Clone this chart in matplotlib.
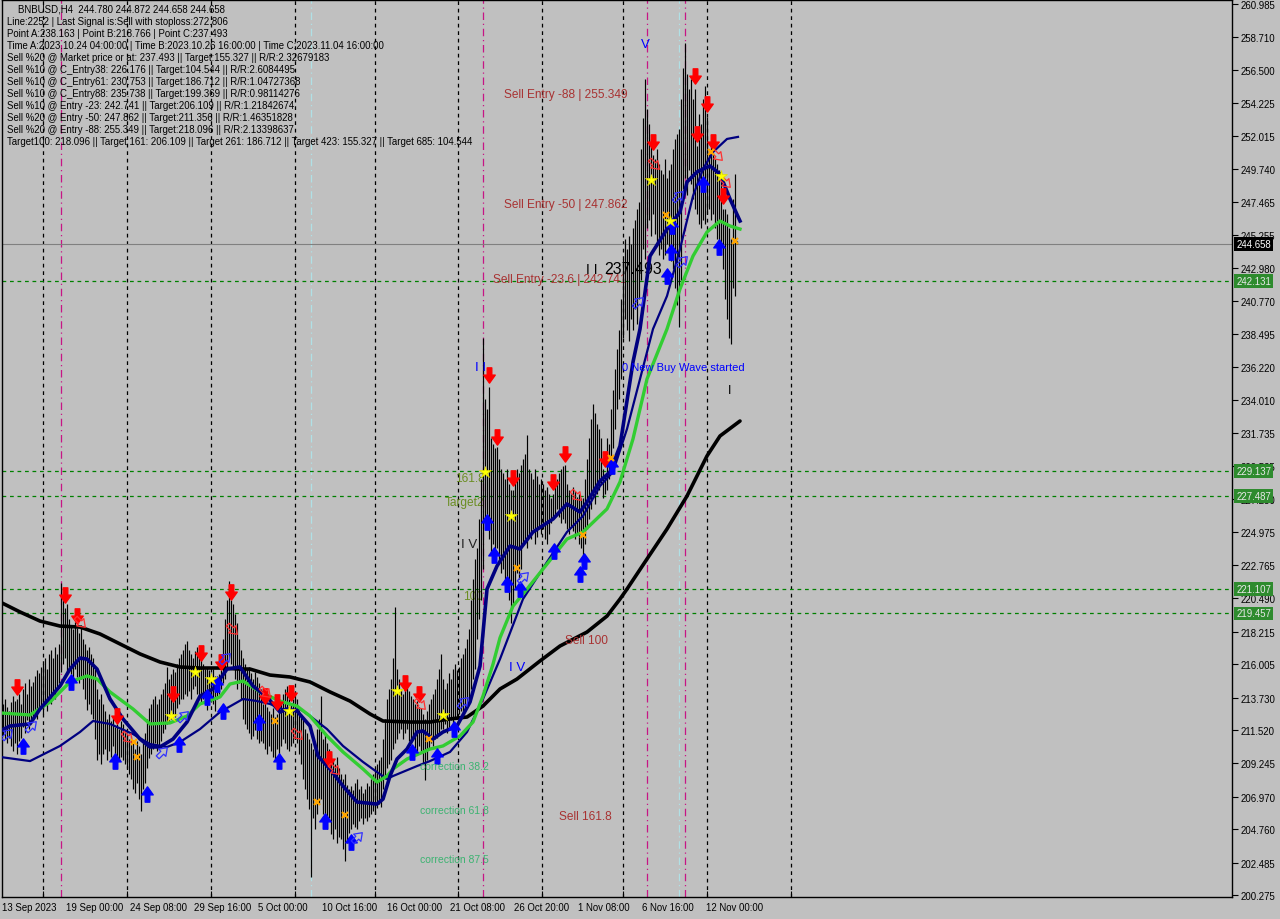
import matplotlib
matplotlib.use("Agg")
import matplotlib.pyplot as plt
import matplotlib.transforms as mtransforms
from matplotlib.path import Path
import numpy as np

# ---------------- data ----------------
highs = [
    213.3, 213.6, 213.1, 212.8, 213.4, 213.8, 213.5, 213.6, 214.0, 213.3,
    214.3, 214.7, 214.0, 215.0, 214.5, 214.8, 215.2, 215.6, 215.4, 215.8,
    216.0, 216.4, 215.7, 216.7, 217.0, 216.4, 217.2, 216.7, 217.4, 221.5,
    220.4, 219.8, 220.1, 219.1, 218.7, 218.4, 218.9, 218.5, 218.1, 218.7,
    217.7, 217.4, 217.0, 217.2, 216.7, 216.4, 215.7, 214.3, 213.6, 214.0,
    213.3, 212.8, 212.3, 212.6, 212.1, 212.4, 211.7, 211.9, 211.6, 212.1,
    211.9, 211.5, 211.3, 210.9, 211.1, 210.6, 210.2, 210.8, 210.4, 209.9,
    210.6, 211.3, 212.3, 213.0, 213.3, 213.6, 213.8, 213.3, 213.6, 214.0,
    214.3, 214.7, 215.8, 215.0, 215.3, 215.7, 215.5, 216.0, 216.4, 216.7,
    217.0, 217.4, 217.6, 217.0, 216.7, 216.4, 216.9, 217.2, 216.7, 216.4,
    216.0, 215.7, 215.8, 215.6, 215.4, 215.7, 215.2, 215.0, 215.3, 215.6,
    217.7, 219.1, 220.4, 221.7, 220.4, 220.1, 219.4, 218.8, 217.7, 217.0,
    216.4, 216.0, 215.7, 215.8, 215.4, 215.0, 215.5, 215.1, 214.7, 214.3,
    213.3, 213.6, 213.1, 212.8, 212.6, 213.0, 212.4, 212.6, 213.0, 213.3,
    214.0, 214.3, 214.5, 213.6, 213.3, 213.6, 214.0, 213.6, 212.9, 212.6,
    212.3, 211.6, 211.3, 210.9, 210.6, 210.2, 210.6, 211.6, 212.3, 213.8,
    210.9, 211.3, 210.6, 210.2, 209.9, 209.5, 209.2, 209.7, 208.9, 208.5,
    208.2, 208.5, 207.8, 207.5, 207.7, 207.4, 207.9, 208.2, 207.5, 207.7,
    207.2, 207.5, 207.9, 207.7, 208.2, 208.5, 208.9, 209.2, 209.5, 209.7,
    210.9, 212.3, 213.6, 214.3, 215.0, 216.4, 219.9, 215.7, 215.0, 214.3,
    214.0, 214.3, 214.5, 214.2, 213.8, 213.6, 213.3, 213.5, 213.1, 213.0,
    212.6, 212.3, 212.8, 213.3, 213.6, 214.0, 214.3, 215.0, 215.7, 216.7,
    215.0, 214.3, 214.7, 215.4, 215.0, 215.7, 216.0, 215.6, 215.8, 216.4,
    216.7, 217.1, 217.7, 218.4, 220.4, 221.8, 223.2, 223.9, 225.9, 228.6,
    238.2, 234.1, 233.4, 234.9, 231.4, 231.0, 230.7, 230.8, 230.0, 229.3,
    229.0, 228.6, 229.3, 228.3, 227.9, 227.9, 228.8, 229.3, 229.0, 229.6,
    230.0, 230.3, 231.6, 229.3, 229.0, 228.6, 229.3, 228.8, 228.3, 228.6,
    228.3, 227.9, 228.1, 227.6, 227.3, 227.6, 228.1, 228.6, 229.0, 229.3,
    229.5, 229.6, 228.3, 227.9, 227.6, 228.1, 227.8, 227.4, 227.6, 227.3,
    227.3, 228.6, 230.0, 231.4, 232.7, 233.7, 233.1, 232.4, 232.0, 231.4,
    229.3, 228.9, 231.4, 231.0, 233.4, 234.7, 236.1, 237.5, 238.8, 240.9,
    243.6, 245.0, 244.3, 245.2, 244.6, 245.7, 246.3, 247.0, 247.5, 251.1,
    253.2, 255.9, 253.8, 252.8, 251.8, 250.7, 250.4, 251.1, 250.1, 249.7,
    249.4, 250.4, 249.1, 249.7, 250.1, 251.1, 251.8, 252.1, 252.5, 254.5,
    256.6, 258.3, 256.2, 255.2, 255.9, 254.5, 255.2, 251.3, 253.5, 252.8,
    254.5, 255.4, 253.3, 251.1, 251.5, 250.8, 250.4, 250.1, 249.7, 249.4,
    247.0, 247.0, 246.7, 245.7, 245.0, 247.7, 249.4, 244.87,
]
lows = [
    211.2, 210.9, 210.6, 211.0, 210.4, 210.1, 210.6, 209.9, 210.8, 211.0,
    211.7, 211.3, 212.2, 211.6, 212.0, 212.4, 212.8, 212.3, 213.0, 213.1,
    212.6, 213.3, 212.8, 213.6, 213.3, 214.0, 213.6, 214.3, 214.7, 215.5,
    216.0, 216.4, 215.5, 215.8, 215.3, 215.0, 215.7, 215.1, 214.7, 215.0,
    214.3, 213.6, 212.9, 213.3, 212.6, 212.3, 210.9, 209.5, 209.9, 209.2,
    209.9, 210.2, 209.5, 210.1, 209.7, 210.4, 209.9, 209.5, 209.4, 209.7,
    209.5, 209.2, 208.9, 208.5, 208.2, 207.5, 207.2, 207.9, 206.8, 206.0,
    207.5, 207.9, 208.9, 209.6, 209.9, 210.2, 210.6, 210.1, 210.4, 210.8,
    211.3, 211.6, 211.9, 212.1, 212.3, 212.6, 212.4, 213.0, 213.3, 213.6,
    213.6, 214.0, 213.8, 214.2, 213.6, 214.3, 214.5, 214.0, 213.6, 213.3,
    213.6, 213.3, 212.9, 213.6, 213.8, 213.3, 212.8, 213.6, 214.0, 214.3,
    214.7, 215.0, 215.7, 216.4, 216.0, 215.7, 215.0, 214.3, 214.7, 213.6,
    212.3, 211.9, 211.6, 211.3, 210.9, 211.1, 211.5, 210.9, 210.6, 210.8,
    210.6, 210.2, 209.9, 210.4, 210.1, 209.7, 209.5, 210.2, 209.9, 210.4,
    210.9, 210.6, 210.2, 210.1, 210.4, 210.6, 210.9, 210.6, 209.9, 209.2,
    208.2, 207.5, 206.8, 206.1, 201.5, 205.5, 204.8, 205.8, 206.5, 206.8,
    205.8, 205.1, 204.8, 205.5, 204.4, 204.1, 204.8, 203.8, 204.2, 204.1,
    203.4, 202.6, 203.8, 204.5, 204.8, 205.1, 204.9, 204.8, 205.3, 205.5,
    205.1, 205.5, 205.3, 205.6, 205.8, 206.0, 205.8, 206.2, 206.5, 206.3,
    207.5, 208.2, 208.9, 209.2, 209.5, 210.2, 210.6, 210.9, 211.3, 211.6,
    210.9, 211.3, 211.6, 210.8, 210.6, 210.9, 210.2, 209.9, 210.4, 210.1,
    209.2, 208.1, 209.5, 210.2, 210.6, 210.4, 210.9, 211.0, 211.3, 211.6,
    211.6, 211.9, 211.3, 211.7, 212.2, 211.9, 212.4, 212.3, 212.6, 212.8,
    212.6, 212.8, 213.3, 213.6, 214.3, 215.0, 215.7, 217.7, 219.1, 220.4,
    222.5, 225.9, 225.2, 224.5, 223.5, 224.2, 223.2, 223.9, 222.9, 222.2,
    222.5, 221.8, 221.1, 220.4, 218.8, 220.1, 221.1, 222.2, 221.8, 222.5,
    224.2, 224.5, 223.9, 224.9, 224.5, 225.2, 224.2, 224.7, 225.2, 224.9,
    225.2, 224.5, 224.2, 224.9, 225.6, 225.9, 226.2, 226.6, 226.0, 225.6,
    225.9, 225.6, 225.2, 224.9, 225.4, 225.1, 224.5, 224.9, 224.2, 223.9,
    223.2, 224.2, 225.2, 225.9, 226.6, 227.3, 226.9, 227.6, 227.9, 228.3,
    227.3, 227.6, 227.9, 228.6, 229.3, 230.7, 232.0, 233.4, 234.1, 235.4,
    238.2, 239.5, 238.8, 238.0, 239.5, 238.8, 240.2, 239.2, 240.9, 242.2,
    244.3, 243.6, 245.7, 246.3, 245.2, 246.7, 245.3, 244.6, 243.9, 244.3,
    243.6, 243.9, 244.6, 244.3, 243.5, 242.9, 241.6, 240.5, 239.0, 242.2,
    248.4, 249.1, 248.0, 249.7, 248.7, 247.7, 247.0, 246.7, 246.0, 245.7,
    246.3, 246.0, 246.7, 247.0, 246.3, 246.7, 245.7, 245.0, 244.3, 244.6,
    242.9, 240.9, 239.5, 238.2, 237.8, 241.6, 241.1, 244.66,
]

# moving averages read at sample bars (bar index, price)
ma200_x = [-1.5, 8.5, 18.5, 28.5, 38.5, 48.5, 58.5, 68.5, 78.5, 88.5, 98.5, 108.5, 118.5, 123.5,
           133.5, 143.5, 153.5, 163.5, 173.5, 183.5, 190, 203.5, 213.5, 223.5, 232, 240, 248.5,
           257, 268.5, 278.5, 292, 302, 308.5, 312, 322, 332, 342, 352, 358.5, 368.5]
ma200_y = [220.24, 219.56, 218.94, 218.60, 218.53, 218.06, 217.38, 216.70, 216.15, 215.81, 215.74,
           215.74, 215.67, 215.67, 215.26, 215.13, 214.79, 214.11, 213.49, 212.61, 212.13, 212.06,
           212.06, 212.27, 212.40, 213.15, 214.31, 214.99, 216.22, 217.24, 218.19, 219.28, 220.44,
           221.12, 223.17, 225.21, 227.46, 230.19, 231.55, 232.57]

ma_green_x = [-1.5, 13.5, 23.5, 33.5, 42, 47, 53.5, 65, 73.5, 83.5, 92, 98.5, 108.5, 113.5, 120,
              128.5, 138.5, 147, 153.5, 162, 170, 180, 187, 192, 195, 202, 213.5, 220, 228.5, 235,
              240, 245, 248.5, 255, 262, 282, 290, 302, 308.5, 315, 322, 332, 338.5, 345, 352,
              358.5, 363.5, 368.5]
ma_green_y = [212.68, 212.54, 213.42, 214.79, 215.20, 214.99, 214.11, 212.95, 211.93, 212.00,
              212.47, 213.29, 213.77, 214.65, 214.85, 214.11, 213.49, 213.15, 212.47, 211.11,
              210.02, 208.86, 207.97, 208.38, 208.86, 209.54, 210.22, 210.43, 211.11, 212.06,
              213.83, 216.00, 217.80, 219.96, 221.12, 224.53, 225.01, 226.58, 228.42, 231.35,
              235.43, 238.84, 241.57, 243.81, 245.45, 246.20, 245.86, 245.65]

ma_fast_x = [-1.5, 3.5, 13.5, 18.5, 28.5, 33.5, 38.5, 42, 47, 53.5, 60, 68.5, 73.5, 78.5, 85, 92,
             98.5, 105, 112, 118.5, 125, 132, 138.5, 142, 147, 153.5, 157.5, 163.5, 170, 177, 187,
             190, 193.5, 197, 202, 207, 210, 215, 220, 227, 233.5, 238.5, 242, 247, 253.5, 258.5,
             265, 275, 282, 288.5, 292, 298.5, 303.5, 308.5, 315, 318.5, 323.5, 332, 338.5, 342,
             347, 350, 353.5, 358.5, 363.5, 368.5]
ma_fast_y = [211.45, 211.79, 211.93, 212.95, 214.51, 215.67, 216.42, 216.35, 215.67, 213.63,
             212.27, 210.90, 210.36, 210.36, 210.90, 212.06, 213.83, 214.31, 215.67, 215.81,
             214.51, 213.77, 212.74, 212.95, 212.81, 211.79, 209.74, 208.86, 207.70, 206.61,
             206.47, 206.81, 208.38, 209.54, 210.22, 211.38, 211.45, 210.90, 211.38, 211.79,
             213.42, 215.87, 221.12, 222.69, 224.05, 223.85, 225.01, 225.89, 226.92, 226.37,
             227.05, 228.48, 229.10, 230.87, 236.59, 238.84, 243.81, 245.65, 246.81, 248.86,
             249.54, 249.74, 249.95, 249.40, 247.70, 246.20]

ma_slow_x = [-1.5, 13.5, 28.5, 38.5, 45, 53.5, 65, 73.5, 82, 88.5, 98.5, 108.5, 120, 127, 133.5,
             142, 148.5, 153.5, 162, 170, 180, 187, 192, 195, 207, 213.5, 223.5, 232, 240, 248.5,
             260, 272, 282, 290, 298.5, 305, 312, 318.5, 325, 332, 338.5, 345, 350, 355, 362, 367.5]
ma_slow_y = [209.68, 209.40, 210.43, 211.38, 212.13, 211.93, 211.24, 210.56, 210.36, 210.70,
             211.58, 212.74, 213.63, 213.49, 213.29, 212.81, 212.95, 212.47, 211.58, 210.43,
             209.34, 208.65, 208.18, 208.38, 209.06, 209.40, 210.02, 211.38, 213.63, 216.35,
             220.44, 222.96, 225.01, 226.10, 228.14, 229.10, 232.03, 235.43, 238.84, 241.09,
             244.29, 247.90, 249.74, 250.90, 251.79, 251.93]

level_prices = [242.131, 229.137, 227.487, 221.107, 219.457]
current_price = 244.658

sell_x = [7, 31, 37, 57, 85, 99, 109, 114, 131, 137, 144, 163, 201, 208, 243, 247, 255, 275,
          281, 301, 325, 346, 347, 352, 355, 360]
sell_y = [214.45, 220.72, 219.28, 212.47, 213.97, 216.76, 216.15, 220.92, 213.83, 213.42, 214.04,
          209.54, 214.72, 213.97, 235.70, 231.48, 228.69, 228.42, 230.32, 229.98, 251.58, 256.08,
          252.13, 254.17, 251.58, 247.90]
buy_x = [10, 34, 56, 72, 88, 102, 107, 110, 128, 138, 161, 174, 204.5, 217, 225.5, 242, 245.5,
         252, 258.5, 275.5, 288.5, 290.5, 304.5, 332, 334, 334.5, 350, 358]
buy_y = [210.43, 214.79, 209.40, 207.16, 210.56, 213.77, 214.65, 212.81, 212.06, 209.40, 205.32,
         203.88, 210.02, 209.74, 211.58, 225.69, 223.44, 221.46, 221.12, 223.71, 222.14, 223.03,
         229.50, 242.45, 244.09, 245.86, 248.72, 244.43]
star_x = [84, 96, 104, 143, 197, 220, 241, 254, 324, 333.5, 359]
star_y = [212.47, 215.47, 214.99, 212.81, 214.17, 212.54, 229.10, 226.10, 248.99, 246.20, 249.27]
cross_x = [65.5, 67, 136, 157, 171, 213, 257, 290, 304, 331.5, 354, 366]
cross_y = [210.70, 209.68, 212.13, 206.61, 205.73, 210.90, 222.55, 224.80, 230.05, 246.61,
           250.90, 244.84]
sell_hollow_x = [38.5, 62, 114.5, 131, 147, 165.5, 208.5, 286.5, 325.5, 357, 361]
sell_hollow_y = [218.88, 211.04, 218.40, 214.10, 211.24, 208.86, 213.29, 227.53, 250.08, 250.70,
                 248.86]
buy_hollow_x = [2, 14, 79.5, 90, 111, 177, 230, 260, 317.5, 337.5, 339.5]
buy_hollow_y = [211.24, 211.79, 210.02, 212.47, 216.42, 204.22, 213.42, 221.94, 240.68, 247.90,
                243.47]

grid_bars = [20, 62, 104, 146, 186, 227.5, 269.5, 310, 352, 394]
magenta_bars = [29, 240, 322, 341]
cyan_bars = [154, 338]

date_labels = ["13 Sep 2023", "19 Sep 00:00", "24 Sep 08:00", "29 Sep 16:00", "5 Oct 00:00",
               "10 Oct 16:00", "16 Oct 00:00", "21 Oct 08:00", "26 Oct 20:00", "1 Nov 08:00",
               "6 Nov 16:00", "12 Nov 00:00"]
date_bars = [-0.5, 31.5, 63.5, 95.5, 127.5, 159.5, 192, 223.5, 255.5, 287.5, 319.5, 351.5]

price_ticks = [260.985, 258.710, 256.500, 254.225, 252.015, 249.740, 247.465, 245.255, 242.980,
               240.770, 238.495, 236.220, 234.010, 231.735, 229.525, 227.250, 224.975, 222.765,
               220.490, 218.215, 216.005, 213.730, 211.520, 209.245, 206.970, 204.760, 202.485,
               200.275]

header_lines = [
    "BNBUSD,H4  244.780 244.872 244.658 244.658",
    "Line:2252 | Last Signal is:Sell with stoploss:272.806",
    "Point A:238.163 | Point B:218.766 | Point C:237.493",
    "Time A:2023.10.24 04:00:00 | Time B:2023.10.26 16:00:00 | Time C:2023.11.04 16:00:00",
    "Sell %20 @ Market price or at: 237.493 || Target:155.327 || R/R:2.32679183",
    "Sell %10 @ C_Entry38: 226.176 || Target:104.544 || R/R:2.6084495",
    "Sell %10 @ C_Entry61: 230.753 || Target:186.712 || R/R:1.04727368",
    "Sell %10 @ C_Entry88: 235.738 || Target:199.369 || R/R:0.98114276",
    "Sell %10 @ Entry -23: 242.741 || Target:206.109 || R/R:1.21842674",
    "Sell %20 @ Entry -50: 247.862 || Target:211.356 || R/R:1.46351828",
    "Sell %20 @ Entry -88: 255.349 || Target:218.096 || R/R:2.13398637",
    "Target100: 218.096 || Target 161: 206.109 || Target 261: 186.712 || Target 423: 155.327 || Target 685: 104.544",
]

# ---------------- figure ----------------
W, H = 1280, 920
BG = "#c0c0c0"
FONT = "Liberation Sans"
plt.rcParams["font.family"] = [FONT, "DejaVu Sans"]

fig = plt.figure(figsize=(W / 100, H / 100), dpi=100, facecolor=BG)
ax = fig.add_axes([2 / W, (H - 898) / H, 1230 / W, 897 / H], facecolor=BG)
ax.set_xlim(-0.5, 614.5)
ax.set_ylim(261.326 - 898 / 14.676, 261.326 - 1 / 14.676)

for s in ax.spines.values():
    s.set_color("black")
    s.set_linewidth(1.0)

# vertical separators
for b in grid_bars:
    ax.axvline(b, color="black", lw=0.9, ls=(0, (3, 3)), zorder=1)
for b in magenta_bars:
    ax.axvline(b, color="#c71585", lw=0.9, ls=(0, (6, 3, 1, 3)), zorder=1)
for b in cyan_bars:
    ax.axvline(b, color="#b0e0e6", lw=0.9, ls=(0, (6, 3, 1, 3)), zorder=1)

# horizontal levels
for p in level_prices:
    ax.axhline(p, color="#008000", lw=0.9, ls=(0, (3, 3)), zorder=1)
ax.axhline(current_price, color="#808080", lw=0.8, zorder=1)

# bars
n = len(highs)
ax.vlines(range(n), lows, highs, color="black", lw=0.85, zorder=3)

# moving averages
ax.plot(ma200_x, ma200_y, color="black", lw=2.6, zorder=4, solid_capstyle="round")
ax.plot(ma_slow_x, ma_slow_y, color="#000080", lw=1.6, zorder=4)
ax.plot(ma_green_x, ma_green_y, color="#32cd32", lw=2.4, zorder=4)
ax.plot(ma_fast_x, ma_fast_y, color="#000080", lw=2.6, zorder=5)

# arrow markers
arrow_v = [(-0.3, 1), (0.3, 1), (0.3, 0.05), (0.75, 0.05), (0, -1), (-0.75, 0.05),
           (-0.3, 0.05), (-0.3, 1)]
codes = [Path.MOVETO] + [Path.LINETO] * 6 + [Path.CLOSEPOLY]
down_arrow = Path(arrow_v, codes)
up_arrow = Path([(x, -y) for x, y in arrow_v], codes)


def rotated(path, deg):
    t = np.deg2rad(deg)
    c, s = np.cos(t), np.sin(t)
    return Path([(c * x - s * y, s * x + c * y) for x, y in path.vertices], path.codes)


hollow_down_right = rotated(down_arrow, 45)
hollow_up_right = rotated(up_arrow, -45)

ax.plot(sell_x, sell_y, ls="none", marker=down_arrow, ms=11, color="#ff0000", mec="#ff0000", zorder=6)
ax.plot(buy_x, buy_y, ls="none", marker=up_arrow, ms=11, color="#0000ff", mec="#0000ff", zorder=6)
ax.plot(sell_hollow_x, sell_hollow_y, ls="none", marker=hollow_down_right, ms=9, mfc="none",
        mec="#ff3030", mew=0.9, zorder=6)
ax.plot(buy_hollow_x, buy_hollow_y, ls="none", marker=hollow_up_right, ms=9, mfc="none",
        mec="#3030ff", mew=0.9, zorder=6)
ax.plot(star_x, star_y, ls="none", marker="*", ms=9, color="#ffff00", mec="#e0e000", mew=0.5, zorder=6)
ax.plot(cross_x, cross_y, ls="none", marker="x", ms=5, color="#ffa500", mew=1.6, zorder=6)

# chart texts
red_txt = "#a83232"
ax.text(250.5, 254.85, "Sell Entry -88 | 255.349", color=red_txt, fontsize=8.6, va="center", zorder=7)
ax.text(250.5, 247.36, "Sell Entry -50 | 247.862", color=red_txt, fontsize=8.6, va="center", zorder=7)
ax.text(245, 242.25, "Sell Entry -23.6 | 242.741", color=red_txt, fontsize=8.6, va="center", zorder=2)
ax.text(281, 217.65, "Sell 100", color=red_txt, fontsize=8.6, va="center", zorder=7)
ax.text(278, 205.66, "Sell 161.8", color=red_txt, fontsize=8.6, va="center", zorder=7)
green_txt = "#3cb371"
ax.text(208.5, 209.06, "correction 38.2", color=green_txt, fontsize=7.5, va="center", zorder=7)
ax.text(208.5, 206.06, "correction 61.8", color=green_txt, fontsize=7.5, va="center", zorder=7)
ax.text(208.5, 202.73, "correction 87.5", color=green_txt, fontsize=7.5, va="center", zorder=7)
olive = "#6b8e23"
ax.text(226, 228.69, "161.8", color=olive, fontsize=8.6, va="center", zorder=2)
ax.text(221, 227.05, "Target2", color=olive, fontsize=8.6, va="center", zorder=2)
ax.text(230, 220.65, "100", color=olive, fontsize=8.6, va="center", zorder=2)
ax.text(309.5, 236.25, "0 New Buy Wave started", color="#0000ff", fontsize=8, va="center", zorder=7)
ax.text(300.5, 242.93, "237.493", color="black", fontsize=11.5, va="center", zorder=2)
ax.text(294.5, 242.93, "I I", color="black", fontsize=10, va="center", ha="center", zorder=2)
ax.text(363.5, 234.68, "I", color="black", fontsize=9, va="center", ha="center", zorder=2)
ax.text(321, 258.26, "V", color="#0000ff", fontsize=9.5, va="center", ha="center", zorder=7)
ax.text(239, 236.25, "I I", color="#0000ff", fontsize=9.5, va="center", ha="center", zorder=7)
ax.text(257, 215.81, "I V", color="#0000ff", fontsize=9.5, va="center", ha="center", zorder=7)
ax.text(233, 224.19, "I V", color="#202020", fontsize=9.5, va="center", ha="center", zorder=7)

# header
for k, line in enumerate(header_lines):
    x0 = 18 if k == 0 else 7
    fig.text(x0 / W, 1 - (10 + 12 * k) / H, line, fontsize=6.95, color="black", va="center",
             ha="left")

# price axis
ax.yaxis.tick_right()
ax.set_yticks(price_ticks)
ax.set_yticklabels([f"{v:.3f}" for v in price_ticks])
ax.tick_params(axis="y", direction="out", length=4, width=0.8, colors="black", labelsize=6.9, pad=2)
ax.set_xticks(grid_bars)
ax.tick_params(axis="x", direction="in", length=4, width=0.8, labelbottom=False)

tr_right = mtransforms.blended_transform_factory(ax.transAxes, ax.transData)
for p in level_prices:
    ax.text(1.0035, p, f"{p:.3f}", transform=tr_right, fontsize=6.9, color="#e8e8e8", va="center",
            ha="left", bbox=dict(boxstyle="square,pad=0.2", fc="#2e8b2e", ec="none"), clip_on=False,
            zorder=8)
ax.text(1.0035, current_price, f"{current_price:.3f}", transform=tr_right, fontsize=6.9, color="white",
        va="center", ha="left", bbox=dict(boxstyle="square,pad=0.2", fc="black", ec="none"),
        clip_on=False, zorder=8)

# date labels
tr_bottom = mtransforms.blended_transform_factory(ax.transData, fig.transFigure)
for lbl, b in zip(date_labels, date_bars):
    ax.text(b, 1 - 908 / H, lbl, transform=tr_bottom, fontsize=6.9, color="black", va="center",
            ha="left", clip_on=False)

fig.savefig("out.png", dpi=100, facecolor=BG)
